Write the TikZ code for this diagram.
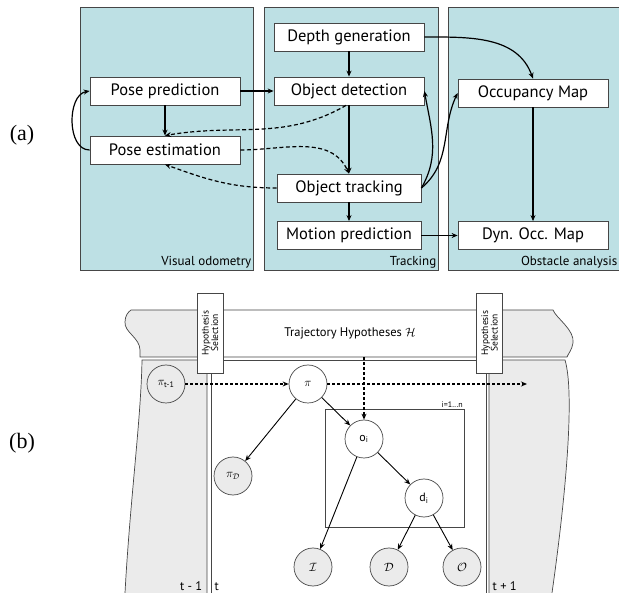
\documentclass[tikz,border=0pt]{standalone}
\usepackage{amsmath,amssymb}
\usepackage{fontspec}
\setmainfont{PT Sans}
\newfontfamily\partfont{Liberation Serif}
\usepackage{xcolor}
\definecolor{Panel-teal}{RGB}{189, 224, 228}
\definecolor{Panel-gray}{RGB}{235, 235, 235}
\definecolor{Panel-edge}{RGB}{70, 70, 70}
\usetikzlibrary{arrows,arrows.meta,positioning,calc}

\begin{document}
\begin{tikzpicture} [
    x=1pt, y=-1pt, >={Stealth[length=6,width=5]}, font=\fontsize{16.5}{18}\selectfont,
    panel/.style = {fill=Panel-teal,draw=Panel-edge,line width=0.6},
    box/.style = {rectangle,draw=Panel-edge,fill=white,line width=0.8,minimum height=28,minimum width=150,inner sep=0},
    narrowbox/.style = {box,minimum width=144},
    tag/.style = {anchor=south east,inner sep=1.5,font=\fontsize{13}{14}\selectfont},
    flow/.style = {->,line width=1.2},
    feedback/.style = {flow,dash pattern=on 4 off 2.5},
    partlabel/.style = {font=\partfont\fontsize{22}{24}\selectfont},
    var/.style = {circle,draw=Panel-edge,fill=white,line width=0.7,minimum size=38,inner sep=0,font=\fontsize{12}{13}\selectfont},
    obsvar/.style = {var,fill=Panel-gray},
    selbox/.style = {rectangle,draw=Panel-edge,fill=white,line width=0.7,rotate=90,minimum width=80,minimum height=26,inner sep=0,align=center,font=\fontsize{9.5}{9.5}\selectfont},
    frame/.style = {draw=Panel-edge,line width=0.7},
    dep/.style = {->,line width=0.9},
    carry/.style = {dep,line width=1.1,dash pattern=on 3 off 2},
    small/.style = {font=\fontsize{12.5}{14}\selectfont}
    ]

    \useasboundingbox (0,0) rectangle (619,593);

    \def \colx{{165, 349, 533}}
    \def \rowy{{37, 91, 150, 188, 235.5}}

    % (a) processing chain
    \node (a) [partlabel] at (22,135) {(a)};

    \draw[panel] (80,7) rectangle (253,270);
    \draw[panel] (264,7) rectangle (438,270);
    \draw[panel] (448,7) rectangle (625,270);

    \node (vo) [tag] at (253,270) {Visual odometry};
    \node (tr) [tag] at (438,270) {Tracking};
    \node (oa) [tag] at (619,270) {Obstacle analysis};

    \node (pred) [box] at (\colx[0], \rowy[1]) {Pose prediction};
    \node (est) [box] at (\colx[0], \rowy[2]) {Pose estimation};

    \node (depth) [box] at (\colx[1], \rowy[0]) {Depth generation};
    \node (det) [box] at (\colx[1], \rowy[1]) {Object detection};
    \node (track) [narrowbox] at (\colx[1], \rowy[3]) {Object tracking};
    \node (motion) [narrowbox] at (\colx[1], \rowy[4]) {Motion prediction};

    \node (occ) [box] at (\colx[2], \rowy[1]+2) {Occupancy Map};
    \node (dyn) [box] at (\colx[2], \rowy[4]) {Dyn. Occ. Map};

    \draw[flow] (pred) -- (det);
    \draw[flow] (pred) -- (est);
    \draw[flow] (est.west) to[out=180,in=190] (pred.west);
    \draw[flow] (depth) -- (det);
    \draw[flow] (det) -- (track);
    \draw[flow] (track) -- (motion);
    \draw[flow] (track.east) to[out=60,in=-80] (det.east);
    \draw[flow] (track.east) to[out=40,in=-115] (occ.west);
    \draw[flow] (depth.east) to[out=0,in=110] (occ.north);
    \draw[flow] (occ) -- (dyn);
    \draw[flow] (motion) -- (dyn);

    \draw[feedback] ([xshift=-3]det.south) to[out=-150,in=10] (est.north);
    \draw[feedback] (est.east) to[out=0,in=115] (track.north);
    \draw[feedback] (track.west) to[out=180,in=-20] (est.south);

    % (b) time slices
    \node (b) [partlabel] at (22,443) {(b)};

    \fill[Panel-gray] (131,310) -- (553,310) .. controls (556,318) and (575,330) .. (573,343)
        .. controls (572,350) and (568,354) .. (567,357) -- (140,357) -- (140,350)
        .. controls (140,338) and (124,332) .. (125,322) .. controls (125,316) and (128,312) .. (131,310);
    \fill[white] (223,310) rectangle (477,357);
    \draw[frame] (131,310) -- (553,310) .. controls (556,318) and (575,330) .. (573,343)
        .. controls (572,350) and (568,354) .. (567,357) -- (140,357) -- (140,350)
        .. controls (140,338) and (124,332) .. (125,322) .. controls (125,316) and (128,312) .. (131,310);

    \fill[Panel-gray] (125,593) .. controls (130,500) and (141,420) .. (142,360) -- (207,360) -- (207,593) -- cycle;
    \draw[frame] (125,593) .. controls (130,500) and (141,420) .. (142,360) -- (207,360) -- (207,593);
    \draw[frame] (211,593) -- (211,360) -- (486,360) -- (486,593);
    \fill[Panel-gray] (489,593) -- (489,360) -- (565,360) .. controls (574,390) and (568,480) .. (552,593) -- cycle;
    \draw[frame] (489,593) -- (489,360) -- (565,360) .. controls (574,390) and (568,480) .. (552,593);

    \node (traj) [small] at (350,333) {Trajectory Hypotheses $\mathcal{H}$};

    \node (sel1) [selbox] at (210,333) {Hypothesis\\Selection};
    \node (sel2) [selbox] at (489.5,333) {Hypothesis\\Selection};

    \node (tprev) [small,anchor=south east,inner sep=1.5] at (204,592) {t - 1};
    \node (tnow) [small,anchor=south west,inner sep=1.5] at (213,592) {t};
    \node (tnext) [small,anchor=south west,inner sep=1.5] at (491,592) {t + 1};

    \draw[frame,line width=0.8] (325,409) rectangle (464,527);
    \node (plate) [anchor=south east,inner sep=1,font=\fontsize{8}{9}\selectfont] at (464,409) {i=1...n};

    \node (pit) [obsvar] at (166,384) {$\pi_{\text{t-1}}$};
    \node (pi) [var] at (308,384) {$\pi$};
    \node (piD) [obsvar] at (233,476) {$\pi_{\mathcal{D}}$};
    \node (oi) [var] at (364,439) {o$_{\text{i}}$};
    \node (di) [var] at (424,498) {d$_{\text{i}}$};
    \node (img) [obsvar] at (313,567) {$\mathcal{I}$};
    \node (dsp) [obsvar] at (389,567) {$\mathcal{D}$};
    \node (obj) [obsvar] at (462,567) {$\mathcal{O}$};

    \coordinate (next) at (527,384);
    \coordinate (hyp) at (364,357);

    \draw[carry] (pit) -- (pi);
    \draw[carry] (pi) -- (next);
    \draw[carry] (hyp) -- (oi);

    \draw[dep] (pi) -- (piD);
    \draw[dep] (pi) -- (oi);
    \draw[dep] (oi) -- (img);
    \draw[dep] (oi) -- (di);
    \draw[dep] (di) -- (dsp);
    \draw[dep] (di) -- (obj);

\end{tikzpicture}
\end{document}
